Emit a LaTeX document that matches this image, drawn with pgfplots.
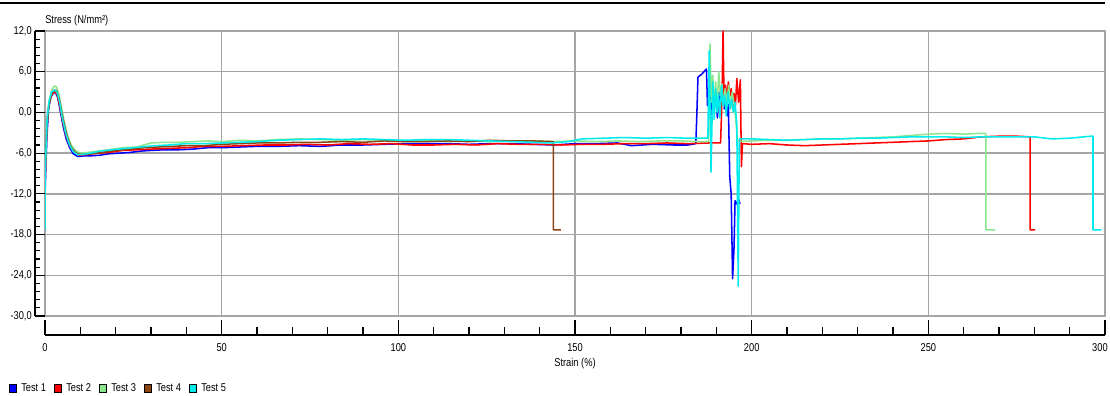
\documentclass[border=0pt]{standalone}
\usepackage{fontspec}
\setmainfont[FakeStretch=0.82]{Liberation Sans}
\usepackage{pgfplots}
\pgfplotsset{compat=1.18}
\definecolor{cT1}{RGB}{0,0,255}
\definecolor{cT2}{RGB}{255,0,0}
\definecolor{cT3}{RGB}{140,230,140}
\definecolor{cT4}{RGB}{139,69,19}
\definecolor{cT5}{RGB}{0,235,235}
\definecolor{gridgray}{RGB}{165,165,165}
\begin{document}
\fontsize{8.5}{10}\selectfont
\begin{tikzpicture}
\path[use as bounding box] (-33.75pt,-60pt) rectangle (798.75pt,237pt);
\begin{axis}[
  scale only axis, width=795pt, height=213.75pt,
  at={(0,0)}, anchor=south west,
  xmin=0, xmax=300, ymin=-30, ymax=12,
  xtick={0,50,...,300}, ytick={-30,-24,...,12},
  xticklabels={}, yticklabels={},
  major tick length=0pt,
  grid=major,
  major grid style={gridgray, line width=1pt},
  axis line style={gridgray, line width=1pt},
  every axis plot/.append style={line width=1.15pt, line join=round},
]
% Test 1
\addplot[cT1] coordinates {
(0,-12) (0.5,-4) (1.0,0.5) (1.6,2.2) (2.4,2.9) (3.0,2.9) (3.6,2.2) (4.4,0.0)
(5.2,-2.2) (6.0,-3.9) (7.0,-5.2) (8.0,-6.1) (9.3,-6.5) (11,-6.4) (13,-6.4)
(15.6,-6.3) (18,-6.1) (21,-6.0) (24,-5.9) (27,-5.7) (30,-5.6) (34,-5.5)
(38,-5.5) (42,-5.4) (46,-5.2) (50,-5.2) (55,-5.1) (60,-5.0) (66,-5.0)
(72,-4.9) (78,-5.0) (84,-4.8) (90,-4.8) (96,-4.7) (102,-4.6) (108,-4.6)
(114,-4.6) (120,-4.7) (126,-4.6) (132,-4.6) (138,-4.7) (144,-4.8) (150,-4.6)
(156,-4.6) (162,-4.5) (166,-4.9) (172,-4.7) (178,-4.8) (182,-4.8) (184.2,-4.6)
(184.5,0) (184.8,5.2) (185.8,5.6) (186.5,6.0) (187.2,6.4) (187.5,1.0) (188.0,3.5)
(188.4,-0.5) (188.8,4.0) (189.3,0.5) (189.8,2.5) (190.3,-0.8) (190.8,3.0)
(191.3,1.5) (191.8,2.8) (192.2,0.5) (192.6,2.0) (193.0,-0.5) (193.4,1.2)
(193.8,-9.5) (194.2,-12) (194.6,-24.5) (195.0,-20) (195.3,-13) (195.8,-13.5)
(196.3,-12.8) (196.7,-13.5)
};
% Test 2
\addplot[cT2] coordinates {
(0,-11) (0.6,-1) (1.2,1.5) (2.0,2.7) (2.8,3.1) (3.5,2.6) (4.3,0.6) (5.2,-1.8)
(6.2,-3.8) (7.2,-5.1) (8.4,-5.9) (9.8,-6.3) (12,-6.2) (15,-6.0) (18,-5.9)
(22,-5.6) (26,-5.5) (30,-5.4) (35,-5.3) (40,-5.2) (45,-5.0) (50,-5.0)
(56,-4.9) (62,-4.8) (68,-4.8) (74,-4.7) (80,-4.8) (86,-4.6) (92,-4.7)
(98,-4.6) (104,-4.8) (110,-4.8) (116,-4.7) (122,-4.8) (128,-4.6) (134,-4.7)
(140,-4.7) (146,-4.8) (152,-4.7) (158,-4.7) (164,-4.6) (170,-4.6) (176,-4.5)
(182,-4.6) (188,-4.5) (191.2,-4.5) (191.6,2) (191.9,12) (192.2,1.5) (192.6,4.0)
(193.0,2.0) (193.4,4.5) (193.8,2.5) (194.2,3.5) (194.6,0.5) (195.0,2.8)
(195.4,1.0) (195.8,5.0) (196.3,1.5) (196.8,4.8) (197.1,-8) (197.4,-4.6)
(200,-4.7) (205,-4.6) (210,-4.8) (215,-4.9) (220,-4.8) (225,-4.7) (230,-4.6)
(235,-4.5) (240,-4.4) (245,-4.3) (250,-4.2) (255,-4.0) (260,-3.9) (265,-3.6)
(270,-3.5) (275,-3.5) (278.8,-3.6) (278.8,-17.3) (280.2,-17.3)
};
% Test 3
\addplot[cT3] coordinates {
(0,-10) (0.5,-2) (1.1,1.5) (1.8,3.2) (2.6,3.9) (3.2,3.8) (3.9,2.8) (4.7,0.6)
(5.5,-1.5) (6.4,-3.4) (7.4,-4.8) (8.6,-5.6) (10,-6.0) (12,-5.9) (15,-5.7)
(18,-5.5) (22,-5.2) (26,-5.1) (30,-4.5) (34,-4.4) (38,-4.4) (42,-4.3)
(46,-4.2) (50,-4.3) (55,-4.1) (60,-4.2) (66,-4.0) (72,-3.9) (78,-4.0)
(84,-4.1) (90,-4.0) (96,-4.1) (102,-4.2) (108,-4.1) (114,-4.3) (120,-4.2)
(126,-4.3) (132,-4.2) (138,-4.2) (144,-4.3) (150,-4.2) (156,-4.3) (162,-4.2)
(168,-4.3) (174,-4.2) (180,-4.2) (186,-4.3) (187.8,-4.3) (188.2,10.1)
(188.6,1.5) (189.0,5.5) (189.4,0.5) (189.8,4.5) (190.2,1.0) (190.7,6.0)
(191.1,2.5) (191.6,4.2) (192.0,0.8) (192.5,3.5) (193.0,1.5) (193.5,4.0)
(194.0,0.5) (194.5,3.0) (195.0,1.2) (195.5,-1.0) (196.0,-4.3) (200,-4.2)
(205,-4.1) (210,-4.1) (215,-4.0) (220,-3.9) (225,-3.9) (230,-3.8) (235,-3.7)
(240,-3.6) (245,-3.4) (250,-3.2) (255,-3.1) (260,-3.2) (264,-3.1)
(266.3,-3.1) (266.3,-17.3) (268.9,-17.3)
};
% Test 4
\addplot[cT4] coordinates {
(0,-9) (0.5,-2.5) (1.1,1.0) (1.8,2.6) (2.6,3.3) (3.3,3.2) (4.0,2.0) (4.8,-0.2)
(5.7,-2.4) (6.6,-4.1) (7.6,-5.3) (8.8,-6.0) (10.2,-6.2) (13,-6.1) (16,-5.9)
(20,-5.6) (24,-5.4) (28,-5.2) (32,-5.1) (36,-5.0) (40,-4.9) (45,-4.9)
(50,-4.7) (55,-4.6) (60,-4.5) (66,-4.5) (72,-4.4) (78,-4.4) (84,-4.3)
(90,-4.4) (96,-4.2) (102,-4.3) (108,-4.3) (114,-4.2) (120,-4.3) (126,-4.1)
(132,-4.2) (138,-4.2) (143.9,-4.3) (143.9,-17.3) (146,-17.3)
};
% Test 5
\addplot[cT5] coordinates {
(0,-17.3) (0.1,-8) (0.6,-1) (1.2,1.8) (1.9,3.0) (2.7,3.3) (3.4,3.0) (4.1,1.6)
(4.9,-0.8) (5.8,-2.9) (6.8,-4.6) (7.9,-5.7) (9.1,-6.2) (10.5,-6.2) (13,-6.0)
(15.6,-5.7) (19,-5.5) (23,-5.3) (27,-5.1) (31,-4.9) (35,-4.8) (40,-4.6)
(45,-4.6) (50,-4.5) (55,-4.4) (60,-4.3) (66,-4.1) (72,-4.0) (78,-3.9)
(84,-4.0) (90,-3.9) (96,-4.0) (102,-4.1) (108,-4.0) (114,-4.0) (120,-4.1)
(126,-4.2) (132,-4.3) (138,-4.4) (143,-4.5) (148,-4.3) (152,-3.9) (158,-3.8)
(164,-3.7) (170,-3.8) (176,-3.7) (182,-3.8) (186,-3.8) (187.6,-3.8) (188.0,9.1)
(188.5,-8.8) (189.0,4.5) (189.4,-1.0) (189.8,3.5) (190.2,0.0) (190.6,2.8)
(191.0,-0.8) (191.5,4.0) (191.9,1.0) (192.4,2.5) (192.8,-0.5) (193.3,3.0)
(193.8,0.5) (194.3,2.0) (194.8,0.0) (195.3,1.5) (195.8,-2) (196.2,-25.6)
(196.5,-3.9) (200,-3.9) (205,-4.0) (210,-4.1) (215,-4.0) (220,-3.9) (225,-3.9)
(230,-3.8) (235,-3.8) (240,-3.7) (245,-3.6) (250,-3.6) (255,-3.6) (260,-3.7)
(265,-3.6) (270,-3.6) (275,-3.6) (280,-3.6) (285,-3.9) (290,-3.8) (294,-3.6)
(296,-3.5) (296.6,-3.5) (296.6,-17.3) (299,-17.3)
};
\end{axis}
\begin{scope}[x=0.75pt, y=0.75pt]
  % top rule
  \draw[black, line width=1.5pt] (-45,313) -- (1060,313);
  % y ruler
  \draw[black, line width=1pt] (-10,0) -- (-10,285);
  \foreach \k in {1,...,34} { \draw[black, line width=0.8pt] (-10,{\k*8.142857}) -- (-5.5,{\k*8.142857}); }
  \foreach \k/\lab in {0/{-30,0},1/{-24,0},2/{-18,0},3/{-12,0},4/{-6,0},5/{0,0},6/{6,0},7/{12,0}} {
    \draw[black, line width=0.8pt] (-10,{\k*40.714286}) -- (0,{\k*40.714286});
    \node[anchor=east, inner sep=0pt] at (-13,{\k*40.714286}) {\lab};
  }
  \node[anchor=west, inner sep=0pt] at (0,295) {Stress (N/mm²)};
  % x ruler
  \draw[black, line width=1pt] (0,-19) -- (1060,-19);
  \foreach \k in {1,...,29} { \draw[black, line width=0.8pt] ({\k*35.333333},-19) -- ({\k*35.333333},-10.5); }
  \foreach \k/\lab in {0/0,1/50,2/100,3/150,4/200,5/250} {
    \draw[black, line width=0.8pt] ({\k*176.666667},-19) -- ({\k*176.666667},-4);
    \node[anchor=center, inner sep=0pt] at ({\k*176.666667},-32) {\lab};
  }
  \draw[black, line width=0.8pt] (1060,-19) -- (1060,-4);
  \node[anchor=east, inner sep=0pt] at (1063,-32) {300};
  \node[anchor=center, inner sep=0pt] at (530,-48) {Strain (\%)};
  % legend
  \foreach \i/\c in {0/cT1,1/cT2,2/cT3,3/cT4,4/cT5} {
    \filldraw[fill=\c, draw=black, line width=0.5pt] ({-35.5+\i*45},-76) rectangle ({-29+\i*45},-68);
    \node[anchor=west, inner sep=0pt] at ({-24+\i*45},-72) {Test \the\numexpr\i+1\relax};
  }
\end{scope}
\end{tikzpicture}
\end{document}
